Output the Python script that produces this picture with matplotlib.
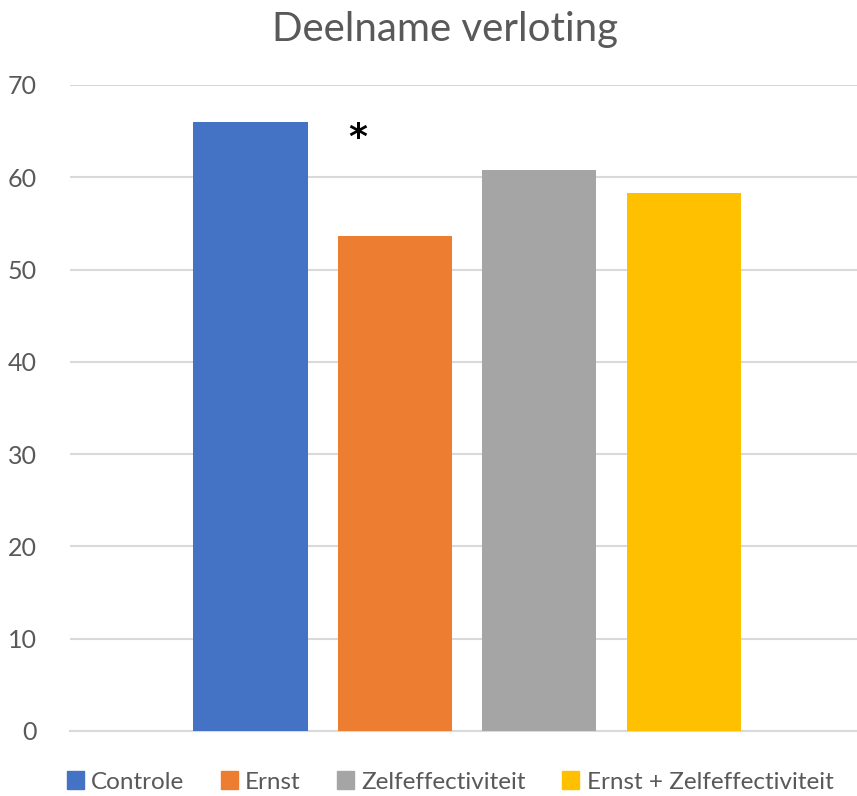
import matplotlib
matplotlib.use("Agg")
import matplotlib.pyplot as plt

categories = ["Controle", "Ernst", "Zelfeffectiviteit", "Ernst + Zelfeffectiviteit"]
values = [66.0, 53.6, 60.8, 58.3]
colors = ["#4472C4", "#ED7D31", "#A5A5A5", "#FFC000"]
yticks = [0, 10, 20, 30, 40, 50, 60, 70]
star_index = 1
star_y = 64.3

plt.rcParams["font.family"] = ["Lato", "DejaVu Sans"]
txt = "#595959"

fig = plt.figure(figsize=(8.57, 7.96), dpi=100)
ax = fig.add_axes([70 / 857, 1 - 731 / 796, 1 - 70 / 857, (731 - 85) / 796])

xs = range(len(values))
ax.bar(xs, values, width=0.79, color=colors, zorder=3)
ax.set_xlim(-1.25, 4.20)
ax.set_ylim(0, 70)
ax.set_yticks(yticks)
ax.set_yticklabels([str(t) for t in yticks], color=txt, fontsize=18)
ax.tick_params(axis="y", length=0, pad=24)
ax.set_xticks([])
ax.yaxis.grid(True, color="#d9d9d9", lw=1.5, zorder=0)
for s in ["top", "right", "left"]:
    ax.spines[s].set_visible(False)
ax.spines["bottom"].set_color("#d9d9d9")
ax.spines["bottom"].set_linewidth(1.5)

# significance marker, sits left of the Ernst bar centre
ax.text(star_index - 0.26, star_y, "*", ha="center", va="center",
        fontsize=26, fontweight="bold", color="black", family="DejaVu Sans")

fig.text(445 / 857, 1 - 30 / 796, "Deelname verloting", ha="center", va="center",
         fontsize=29, color=txt)

handles = [plt.Rectangle((0, 0), 1, 1, color=c) for c in colors]
fig.legend(handles, categories, loc="center", bbox_to_anchor=(0.525, 1 - 782 / 796),
           ncol=4, frameon=False, fontsize=17.5, labelcolor=txt,
           handlelength=0.7, handleheight=0.7, handletextpad=0.3, columnspacing=1.5)

fig.savefig("out.png", dpi=100)
